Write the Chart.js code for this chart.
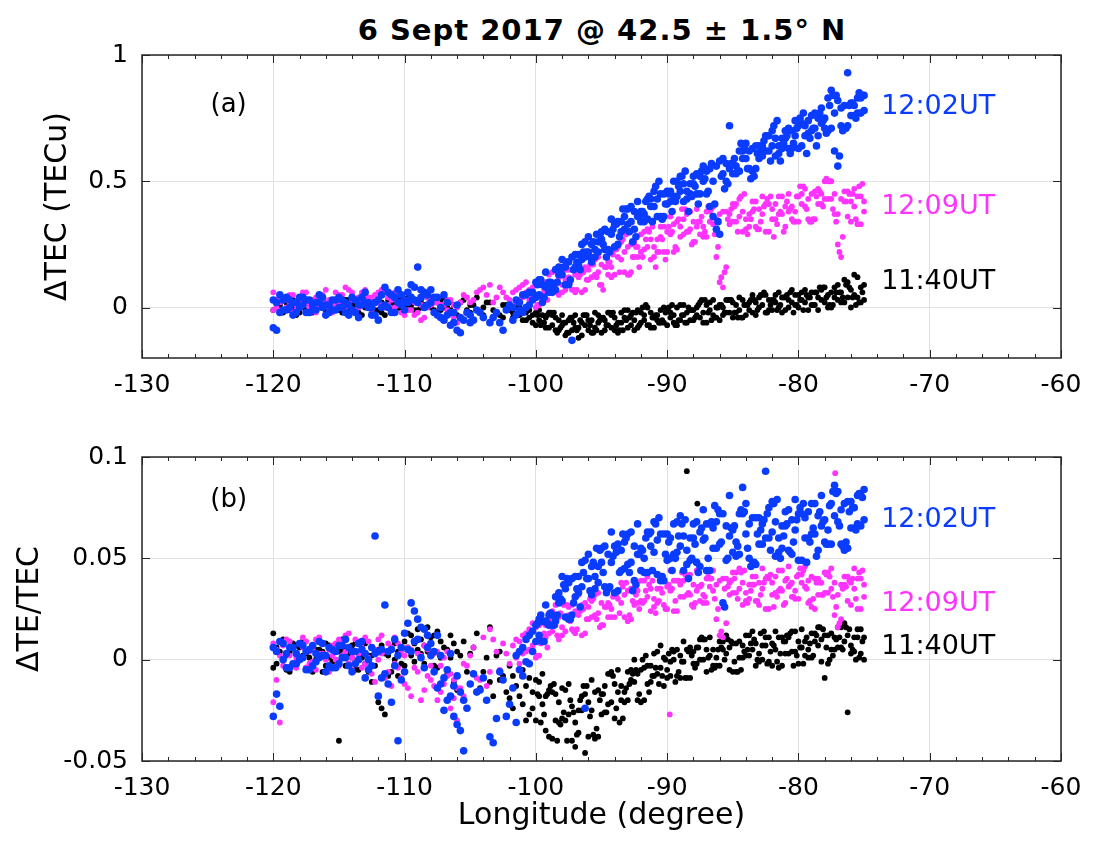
<!DOCTYPE html>
<html>
<head>
<meta charset="utf-8">
<title>6 Sept 2017 TEC</title>
<script src="https://cdn.jsdelivr.net/npm/chart.js@4.4.1/dist/chart.umd.min.js"></script>
<style>
  body { margin: 0; background: #fff; }
  #wrap { position: relative; width: 1100px; height: 844px; overflow: hidden; }
  #title {
    position: absolute; left: 302px; top: 11px; width: 600px; text-align: center;
    font: bold 29px "DejaVu Sans", sans-serif; letter-spacing: 1px; color: #000; line-height: 38px;
  }
  canvas { position: absolute; left: 0; }
  #tecChart { top: 0; }
  #relChart { top: 420px; }
</style>
</head>
<body>
<div id="wrap">
  <div id="title">6 Sept 2017 @ 42.5 ± 1.5° N</div>
  <canvas id="tecChart" width="1100" height="420"></canvas>
  <canvas id="relChart" width="1100" height="424"></canvas>
</div>
<script>
// axes
const X_TICKS = [-130, -120, -110, -100, -90, -80, -70, -60];
const TEC_TICKS = [0, 0.5, 1];
const REL_TICKS = [-0.05, 0, 0.05, 0.1];

// longitude sampling columns (degree)
const LON_A = [
  -120, -119.5, -119, -118.5, -118, -117.5, -117, -116.5, -116, -115.5,
  -115, -114.5, -114, -113.5, -113, -112.5, -112, -111.5, -111, -110.5,
  -110, -109.5, -109, -108.5, -108, -107.5, -107, -106.5, -106, -105.5,
  -105, -104.5, -104, -103.5, -103, -102.5, -102, -101.5, -101, -100.5,
  -100, -99.5, -99, -98.5, -98, -97.5, -97, -96.5, -96, -95.5,
  -95, -94.5, -94, -93.5, -93, -92.5, -92, -91.5, -91, -90.5,
  -90, -89.5, -89, -88.5, -88, -87.5, -87, -86.5, -86, -85.5,
  -85, -84.5, -84, -83.5, -83, -82.5, -82, -81.5, -81, -80.5,
  -80, -79.5, -79, -78.5, -78, -77.5, -77, -76.5, -76, -75.5,
  -75
];
const LON_B = [
  -119.75, -119.25, -118.75, -118.25, -117.75, -117.25, -116.75, -116.25, -115.75, -115.25,
  -114.75, -114.25, -113.75, -113.25, -112.75, -112.25, -111.75, -111.25, -110.75, -110.25,
  -109.75, -109.25, -108.75, -108.25, -107.75, -107.25, -106.75, -106.25, -105.75, -105.25,
  -104.75, -104.25, -103.75, -103.25, -102.75, -102.25, -101.75, -101.25, -100.75, -100.25,
  -99.75, -99.25, -98.75, -98.25, -97.75, -97.25, -96.75, -96.25, -95.75, -95.25,
  -94.75, -94.25, -93.75, -93.25, -92.75, -92.25, -91.75, -91.25, -90.75, -90.25,
  -89.75, -89.25, -88.75, -88.25, -87.75, -87.25, -86.75, -86.25, -85.75, -85.25,
  -84.75, -84.25, -83.75, -83.25, -82.75, -82.25, -81.75, -81.25, -80.75, -80.25,
  -79.75, -79.25, -78.75, -78.25, -77.75, -77.25, -76.75, -76.25, -75.75, -75.25
];
// extra columns over the dense eastern part
const LON_C = [
  -99.875, -99.375, -98.875, -98.375, -97.875, -97.375, -96.875, -96.375, -95.875, -95.375,
  -94.875, -94.375, -93.875, -93.375, -92.875, -92.375, -91.875, -91.375, -90.875, -90.375,
  -89.875, -89.375, -88.875, -88.375, -87.875, -87.375, -86.875, -86.375, -85.875, -85.375,
  -84.875, -84.375, -83.875, -83.375, -82.875, -82.375, -81.875, -81.375, -80.875, -80.375,
  -79.875, -79.375, -78.875, -78.375, -77.875, -77.375, -76.875, -76.375, -75.875, -75.375
];
const LON_D = [
  -99.625, -99.125, -98.625, -98.125, -97.625, -97.125, -96.625, -96.125, -95.625, -95.125,
  -94.625, -94.125, -93.625, -93.125, -92.625, -92.125, -91.625, -91.125, -90.625, -90.125,
  -89.625, -89.125, -88.625, -88.125, -87.625, -87.125, -86.625, -86.125, -85.625, -85.125,
  -84.625, -84.125, -83.625, -83.125, -82.625, -82.125, -81.625, -81.125, -80.625, -80.125,
  -79.625, -79.125, -78.625, -78.125, -77.625, -77.125, -76.625, -76.125, -75.625, -75.125
];

// (a) dTEC in TECu, 11:40UT (black)
const tecBlack1 = [
  0.03, 0.01, -0.01, 0.03, -0.02, 0.02, 0.00, 0.03, -0.01, 0.01,
  -0.01, 0.03, -0.01, 0.02, 0.00, -0.02, 0.03, 0.01, -0.01, 0.03,
  0.00, 0.04, 0.02, 0.05, 0.00, 0.02, 0.04, -0.01, 0.01, 0.03,
  -0.02, 0.04, 0.00, null, -0.02, 0.01, -0.01, -0.03, -0.01, -0.04,
  -0.02, -0.06, -0.08, -0.04, -0.07, -0.10, -0.03, -0.11, -0.05, -0.08,
  -0.04, -0.07, -0.09, -0.02, -0.08, -0.05, -0.02, -0.07, -0.04, -0.01,
  -0.07, -0.03, 0.01, -0.06, -0.01, -0.04, 0.01, -0.03, -0.05, 0.03,
  -0.04, 0.04, -0.03, 0.05, 0.00, -0.02, 0.03, 0.06, -0.01, 0.07,
  0.00, 0.07, 0.01, 0.04, 0.08, 0.00, 0.09, 0.02, 0.07, 0.12,
  0.03
];
const tecBlack2 = [
  -0.01, -0.02, 0.02, 0.00, 0.02, -0.01, -0.02, 0.01, -0.03, 0.03,
  0.02, 0.00, 0.01, -0.02, 0.03, 0.01, -0.01, -0.03, 0.02, 0.00,
  0.02, 0.01, -0.01, 0.01, 0.03, -0.02, 0.00, 0.02, -0.03, null,
  0.01, null, -0.03, 0.02, null, -0.04, null, 0.00, -0.05, -0.01,
  -0.07, -0.03, -0.02, -0.09, -0.03, -0.05, -0.08, -0.06, -0.09, -0.02,
  -0.10, -0.02, -0.04, -0.06, -0.01, -0.09, -0.06, 0.00, -0.08, -0.06,
  -0.01, -0.06, -0.05, -0.02, -0.05, 0.02, -0.06, 0.03, 0.01, -0.02,
  0.02, -0.01, 0.01, -0.02, 0.04, 0.05, -0.01, 0.00, 0.04, 0.02,
  0.05, 0.02, 0.06, -0.01, 0.02, 0.06, 0.03, 0.11, 0.00, 0.04,
  0.09
];
const tecBlack3 = [
  0.00, 0.03, -0.01, 0.02, 0.00, -0.02, 0.02, 0.00, -0.02, 0.03,
  0.01, -0.01, 0.02, -0.03, 0.01, -0.01, 0.02, 0.00, -0.02, 0.03,
  0.01, -0.01, 0.03, 0.01, -0.01, 0.03, 0.00, -0.02, null, -0.01,
  null, -0.02, 0.02, null, -0.03, null, -0.02, 0.00, -0.05, -0.03,
  -0.05, -0.08, -0.03, -0.09, -0.06, -0.04, -0.08, -0.03, -0.10, -0.06,
  -0.09, -0.03, -0.06, -0.04, -0.07, -0.01, -0.05, -0.08, -0.03, -0.06,
  -0.02, -0.07, -0.03, -0.05, 0.00, -0.02, 0.02, -0.04, 0.00, -0.02,
  0.01, 0.03, -0.01, 0.02, 0.05, -0.01, 0.02, 0.04, 0.00, 0.05,
  0.03, -0.01, 0.06, 0.03, 0.05, 0.08, 0.02, 0.10, 0.05, 0.08
];
const tecBlack4 = [
  0.02, -0.02, 0.01, -0.03, 0.03, 0.01, -0.01, 0.02, 0.01, -0.01,
  -0.02, 0.03, 0.00, 0.01, 0.03, 0.02, -0.02, 0.03, 0.01, -0.01,
  0.04, 0.02, 0.00, 0.04, 0.02, -0.01, 0.02, 0.01, 0.02, null,
  0.01, null, null, -0.01, null, 0.01, -0.04, -0.03, -0.02, -0.06,
  -0.01, -0.04, -0.07, -0.05, -0.11, -0.09, -0.12, -0.07, -0.05, -0.03,
  -0.05, -0.08, -0.10, -0.01, -0.03, -0.08, -0.03, -0.02, -0.05, 0.00,
  -0.04, 0.00, 0.01, -0.01, -0.03, -0.06, -0.01, 0.00, -0.03, 0.03,
  -0.02, -0.04, 0.02, -0.03, 0.01, 0.03, 0.05, -0.02, 0.03, 0.01,
  0.06, 0.04, 0.01, 0.07, 0.00, 0.04, 0.06, 0.04, 0.13, 0.02
];
const tecBlack5 = [
  -0.03, -0.06, -0.02, -0.10, -0.06, -0.04, -0.09, -0.03, -0.07, -0.09,
  -0.04, -0.02, -0.07, -0.09, -0.04, -0.02, 0.00, -0.07, -0.03, -0.05,
  0.00, -0.07, -0.03, 0.00, -0.04, 0.03, -0.02, -0.04, 0.01, 0.03,
  -0.02, -0.04, 0.01, 0.03, 0.05, -0.02, 0.03, 0.01, 0.05, -0.02,
  0.03, 0.05, 0.01, 0.08, 0.04, 0.01, 0.06, 0.09, 0.04, 0.02
];
const tecBlack6 = [
  -0.07, -0.03, -0.02, -0.08, -0.10, -0.06, -0.05, -0.03, -0.10, -0.05,
  -0.07, -0.02, -0.09, -0.05, -0.02, -0.07, 0.01, -0.04, -0.06, -0.02,
  0.01, -0.05, -0.06, -0.01, 0.01, 0.03, -0.05, 0.00, -0.02, 0.03,
  -0.04, 0.01, 0.03, -0.01, 0.06, 0.01, -0.01, 0.04, 0.06, 0.01,
  -0.01, 0.04, 0.06, 0.08, 0.01, 0.06, 0.04, 0.08, 0.01, 0.06
];

// (a) 12:02UT (blue)
const tecBlue1 = [
  -0.08, 0.05, -0.01, 0.02, 0.04, -0.02, 0.01, 0.05, -0.03, 0.03,
  0.00, -0.02, 0.04, 0.01, 0.06, -0.03, 0.03, 0.08, -0.02, 0.07,
  0.03, 0.09, 0.16, 0.06, 0.02, -0.03, 0.05, -0.02, 0.01, -0.05,
  -0.03, null, -0.04, null, -0.02, null, 0.01, -0.03, 0.05, 0.01,
  0.10, 0.09, 0.06, 0.15, 0.13, 0.09, 0.21, 0.19, 0.28, 0.20,
  0.27, 0.23, 0.33, 0.30, 0.39, 0.38, 0.34, 0.43, 0.40, 0.36,
  0.46, 0.44, 0.52, 0.43, 0.49, 0.45, 0.54, 0.50, 0.58, 0.57,
  0.53, 0.62, 0.59, 0.54, 0.64, 0.62, 0.70, 0.61, 0.67, 0.63,
  0.72, 0.68, 0.76, 0.75, 0.71, 0.86, 0.56, 0.71, 0.81, 0.77,
  0.84
];
const tecBlue2 = [
  0.03, -0.02, 0.04, -0.03, 0.00, 0.03, -0.01, 0.02, 0.01, -0.01,
  0.04, 0.02, -0.01, -0.04, 0.02, 0.00, -0.05, 0.01, 0.05, 0.02,
  -0.01, 0.04, 0.02, 0.00, 0.07, 0.04, -0.05, -0.07, -0.09, null,
  -0.06, -0.01, null, -0.06, null, -0.09, null, 0.03, -0.02, 0.06,
  0.04, 0.02, 0.10, 0.07, 0.19, 0.18, 0.16, 0.25, 0.22, 0.23,
  0.30, 0.30, 0.24, 0.34, 0.33, 0.31, 0.38, 0.35, 0.46, 0.45,
  0.41, 0.50, 0.46, 0.46, 0.52, 0.52, 0.45, 0.36, 0.29, 0.50,
  0.57, 0.54, 0.65, 0.63, 0.59, 0.68, 0.64, 0.64, 0.70, 0.70,
  0.63, 0.72, 0.70, 0.68, 0.75, 0.71, 0.82, 0.80, 0.76, 0.83,
  0.78
];
const tecBlue3 = [
  0.02, -0.01, 0.03, -0.02, 0.01, 0.03, -0.01, 0.04, 0.01, -0.01,
  0.03, 0.01, -0.02, 0.04, 0.00, 0.02, 0.05, 0.00, 0.04, 0.01,
  0.06, 0.03, 0.07, 0.01, 0.04, 0.00, -0.03, -0.06, -0.04, -0.02,
  null, -0.02, null, -0.04, null, -0.01, 0.00, 0.02, 0.00, 0.06,
  0.05, 0.14, 0.06, 0.13, 0.09, 0.20, 0.17, 0.26, 0.25, 0.22,
  0.31, 0.29, 0.25, 0.36, 0.34, 0.42, 0.34, 0.40, 0.36, 0.45,
  0.42, 0.50, 0.49, 0.45, 0.53, 0.50, 0.40, 0.56, 0.53, 0.72,
  0.53, 0.59, 0.55, 0.64, 0.60, 0.68, 0.67, 0.63, 0.71, 0.68,
  0.64, 0.74, 0.71, 0.79, 0.70, 0.77, 0.72, 0.93, 0.76, 0.83
];
const tecBlue4 = [
  -0.09, 0.03, 0.00, 0.02, 0.04, -0.02, 0.02, 0.00, -0.02, 0.03,
  0.00, -0.03, 0.03, 0.01, 0.02, -0.03, 0.00, 0.06, -0.02, 0.05,
  0.02, 0.08, 0.04, 0.05, -0.02, -0.04, 0.02, -0.02, -0.10, null,
  -0.05, null, null, null, -0.06, null, -0.05, -0.01, 0.05, 0.03,
  0.11, 0.08, 0.09, 0.16, 0.16, -0.13, 0.21, 0.20, 0.18, 0.26,
  0.23, 0.35, 0.34, 0.31, 0.40, 0.36, 0.37, 0.43, 0.43, 0.36,
  0.46, 0.44, 0.42, 0.49, 0.45, 0.56, 0.55, 0.31, 0.59, 0.55,
  0.56, 0.62, 0.62, 0.55, 0.64, 0.62, 0.60, 0.67, 0.63, 0.74,
  0.73, 0.69, 0.77, 0.73, 0.83, 0.62, 0.79, 0.72, 0.80, 0.77
];
const tecBlue5 = [
  0.09, 0.04, 0.10, 0.10, 0.16, 0.11, 0.18, 0.22, 0.20, 0.29,
  0.25, 0.22, 0.33, 0.39, 0.30, 0.28, 0.38, 0.44, 0.48, 0.35,
  0.45, 0.42, 0.52, 0.38, 0.48, 0.54, 0.46, 0.41, 0.52, 0.49,
  0.59, 0.65, 0.55, 0.52, 0.62, 0.68, 0.72, 0.58, 0.68, 0.65,
  0.75, 0.61, 0.71, 0.77, 0.69, 0.84, 0.60, 0.71, 0.81, 0.85
];
const tecBlue6 = [
  0.11, 0.08, 0.07, 0.14, 0.18, 0.15, 0.15, 0.22, 0.26, 0.29,
  0.20, 0.31, 0.28, 0.39, 0.26, 0.36, 0.42, 0.34, 0.50, 0.41,
  0.38, 0.48, 0.54, 0.44, 0.41, 0.51, 0.57, 0.34, 0.47, 0.57,
  0.54, 0.64, 0.51, 0.61, 0.66, 0.58, 0.74, 0.65, 0.61, 0.71,
  0.77, 0.67, 0.64, 0.74, 0.80, 0.84, 0.70, 0.80, 0.75, 0.84
];

// (a) 12:09UT (magenta)
const tecPink1 = [
  0.06, 0.02, 0.00, 0.05, 0.01, 0.06, -0.01, 0.04, 0.07, 0.01,
  0.05, 0.08, 0.03, 0.00, 0.07, 0.04, 0.02, 0.06, -0.02, 0.05,
  0.02, -0.01, 0.03, 0.00, 0.04, -0.03, 0.01, -0.02, 0.00, 0.05,
  0.02, 0.06, null, 0.09, 0.04, null, 0.03, 0.07, 0.09, 0.03,
  0.00, 0.10, 0.07, 0.15, 0.06, 0.12, 0.06, 0.15, 0.11, 0.19,
  0.17, 0.13, 0.23, 0.19, 0.13, 0.26, 0.22, 0.31, 0.20, 0.28,
  0.22, 0.33, 0.28, 0.37, 0.34, 0.29, 0.38, 0.33, 0.10, 0.38,
  0.34, 0.43, 0.31, 0.38, 0.31, 0.41, 0.35, 0.44, 0.40, 0.35,
  0.44, 0.40, 0.34, 0.47, 0.43, 0.50, 0.37, 0.42, 0.34, 0.44,
  0.38
];
const tecPink2 = [
  -0.01, 0.05, 0.03, -0.02, 0.04, 0.02, 0.03, 0.00, 0.02, -0.02,
  0.02, 0.00, 0.06, 0.04, 0.02, -0.01, 0.06, 0.00, 0.03, 0.01,
  -0.03, 0.04, -0.02, -0.04, 0.01, 0.02, -0.05, 0.03, -0.06, null,
  null, null, 0.08, null, null, 0.06, null, 0.02, 0.04, 0.07,
  0.09, 0.05, 0.13, 0.09, 0.09, 0.15, 0.13, 0.06, 0.15, 0.13,
  0.09, 0.18, 0.13, 0.26, 0.24, 0.20, 0.29, 0.24, 0.24, 0.32,
  0.30, 0.22, 0.32, 0.30, 0.26, 0.34, 0.28, 0.40, 0.37, 0.16,
  0.41, 0.36, 0.35, 0.42, 0.39, 0.30, 0.39, 0.37, 0.32, 0.40,
  0.34, 0.47, 0.45, 0.41, 0.50, 0.43, 0.25, 0.46, 0.42, 0.33,
  0.42
];
const tecPink3 = [
  0.03, -0.01, 0.05, 0.01, 0.03, 0.00, 0.04, 0.02, -0.01, 0.06,
  0.02, 0.07, 0.03, 0.06, 0.00, 0.05, 0.01, 0.04, 0.06, 0.02,
  0.03, -0.03, 0.01, 0.04, -0.02, 0.01, 0.03, -0.04, 0.02, null,
  0.03, null, 0.05, null, 0.08, 0.04, null, 0.03, 0.06, 0.04,
  0.10, 0.06, 0.14, 0.12, 0.07, 0.15, 0.12, 0.07, 0.17, 0.14,
  0.23, 0.12, 0.20, 0.14, 0.25, 0.20, 0.30, 0.27, 0.22, 0.32,
  0.29, 0.23, 0.35, 0.31, 0.39, 0.28, 0.34, 0.20, 0.38, 0.33,
  0.41, 0.38, 0.32, 0.42, 0.37, 0.30, 0.41, 0.37, 0.45, 0.34,
  0.41, 0.35, 0.46, 0.41, 0.50, 0.45, 0.20, 0.46, 0.40, 0.33
];
const tecPink4 = [
  0.00, 0.04, 0.02, -0.01, 0.06, 0.02, -0.02, 0.05, 0.03, 0.01,
  0.05, 0.01, -0.01, 0.02, 0.04, 0.02, 0.07, 0.01, 0.00, -0.02,
  -0.01, 0.02, -0.05, 0.00, 0.02, -0.04, -0.01, 0.01, null, 0.04,
  null, 0.07, null, 0.02, null, null, 0.06, 0.08, 0.10, 0.08,
  0.01, 0.10, 0.08, 0.05, 0.11, 0.07, 0.18, 0.16, 0.12, 0.20,
  0.16, 0.16, 0.24, 0.22, 0.14, 0.24, 0.23, 0.19, 0.27, 0.22,
  0.36, 0.34, 0.29, 0.38, 0.32, 0.32, 0.38, 0.35, 0.08, 0.37,
  0.34, 0.30, 0.37, 0.32, 0.44, 0.41, 0.35, 0.44, 0.38, 0.38,
  0.45, 0.43, 0.35, 0.45, 0.43, 0.37, 0.43, 0.36, 0.47, 0.44
];
const tecPink5 = [
  0.01, 0.07, 0.10, 0.06, 0.15, 0.10, 0.07, 0.14, 0.17, 0.12,
  0.07, 0.18, 0.23, 0.27, 0.13, 0.24, 0.20, 0.30, 0.16, 0.27,
  0.32, 0.24, 0.39, 0.30, 0.26, 0.36, 0.40, 0.29, 0.12, 0.35,
  0.40, 0.44, 0.29, 0.39, 0.34, 0.43, 0.28, 0.38, 0.42, 0.34,
  0.48, 0.39, 0.35, 0.46, 0.51, 0.39, 0.22, 0.42, 0.45, 0.48
];
const tecPink6 = [
  0.04, 0.03, 0.09, 0.13, 0.15, 0.07, 0.13, 0.11, 0.17, 0.09,
  0.16, 0.21, 0.14, 0.29, 0.20, 0.16, 0.27, 0.32, 0.22, 0.19,
  0.30, 0.35, 0.39, 0.25, 0.34, 0.30, 0.39, 0.24, 0.14, 0.39,
  0.30, 0.45, 0.35, 0.31, 0.40, 0.44, 0.33, 0.30, 0.39, 0.44,
  0.48, 0.34, 0.44, 0.40, 0.50, 0.34, 0.28, 0.45, 0.35, 0.49
];

// (b) dTEC/TEC, 11:40UT (black)
const relBlack1 = [
  0.013, 0.004, -0.005, 0.008, 0.001, -0.004, 0.007, 0.002, -0.003, 0.005,
  -0.040, 0.006, 0.001, -0.005, 0.008, 0.002, -0.021, 0.003, -0.006, 0.004,
  0.009, 0.002, 0.015, 0.007, 0.011, -0.004, 0.006, 0.012, -0.015, 0.009,
  null, 0.013, null, 0.016, null, -0.008, -0.019, null, -0.005, -0.027,
  -0.010, -0.022, -0.038, -0.017, -0.029, -0.012, -0.043, -0.025, -0.038, -0.016,
  -0.027, -0.007, -0.012, -0.020, -0.006, -0.011, -0.021, -0.003, -0.008, 0.007,
  -0.009, 0.000, -0.009, 0.005, -0.002, 0.010, 0.005, -0.003, 0.009, 0.003,
  -0.006, 0.009, 0.002, 0.014, -0.001, 0.007, -0.003, 0.011, 0.003, 0.014,
  0.009, 0.002, 0.013, 0.007, -0.009, 0.013, 0.006, 0.018, 0.003, 0.011,
  0.000
];
const relBlack2 = [
  -0.004, 0.009, 0.002, -0.002, 0.006, 0.003, -0.006, 0.005, 0.008, -0.001,
  0.004, -0.003, 0.007, 0.003, -0.002, -0.011, 0.005, -0.027, 0.006, -0.008,
  -0.003, 0.012, 0.005, -0.002, 0.003, 0.014, -0.009, 0.001, 0.004, -0.020,
  0.003, null, -0.006, -0.011, 0.002, null, -0.003, -0.013, -0.022, -0.009,
  -0.030, -0.007, -0.015, -0.030, -0.014, -0.027, -0.031, -0.018, -0.021, -0.039,
  -0.017, -0.022, -0.029, -0.013, -0.020, 0.000, -0.005, -0.012, 0.003, -0.004,
  -0.005, 0.004, 0.002, -0.009, 0.004, 0.000, -0.006, 0.005, -0.003, 0.012,
  0.008, 0.001, 0.012, 0.005, 0.003, 0.011, 0.008, -0.004, 0.009, 0.004,
  -0.002, 0.009, 0.001, 0.016, 0.012, 0.005, 0.016, 0.009, 0.007, 0.015,
  0.011
];
const relBlack3 = [
  0.006, 0.000, 0.004, -0.003, 0.009, 0.001, 0.005, -0.006, 0.007, 0.000,
  0.005, -0.002, 0.008, 0.001, -0.006, 0.004, -0.024, 0.002, 0.008, -0.002,
  0.006, -0.001, 0.010, 0.004, 0.012, 0.001, -0.007, 0.008, null, -0.006,
  0.006, null, 0.001, null, -0.010, null, -0.008, -0.018, -0.013, -0.024,
  -0.018, -0.035, -0.016, -0.031, -0.015, -0.023, -0.036, -0.017, -0.025, -0.038,
  -0.013, -0.021, -0.005, -0.021, -0.010, -0.020, -0.004, -0.011, 0.004, 0.001,
  -0.008, 0.005, -0.001, -0.009, 0.006, 0.000, 0.011, -0.003, 0.005, -0.005,
  0.008, 0.001, 0.012, 0.008, 0.000, 0.011, 0.005, -0.003, 0.011, 0.004,
  0.015, 0.001, 0.009, -0.001, 0.012, 0.005, 0.016, 0.012, 0.004, 0.015
];
const relBlack4 = [
  -0.002, 0.010, -0.006, 0.007, 0.002, -0.005, 0.000, 0.004, 0.001, -0.004,
  0.010, 0.003, -0.005, 0.006, 0.002, -0.003, 0.007, -0.008, 0.000, 0.006,
  0.013, 0.008, 0.003, 0.016, -0.003, 0.009, 0.005, -0.011, 0.002, null,
  null, -0.014, null, -0.018, 0.004, -0.016, -0.024, null, -0.030, -0.016,
  -0.011, -0.018, -0.039, -0.021, -0.030, -0.040, -0.025, -0.046, -0.010, -0.015,
  -0.026, -0.006, -0.016, -0.016, -0.005, -0.007, -0.020, -0.003, -0.007, -0.013,
  -0.001, -0.008, 0.009, 0.006, -0.002, 0.010, 0.002, 0.001, 0.009, 0.006,
  -0.006, 0.007, 0.002, -0.003, 0.007, -0.001, 0.014, 0.011, 0.003, 0.014,
  0.006, 0.005, 0.013, 0.010, -0.002, 0.011, 0.006, -0.026, 0.011, 0.003
];
const relBlack5 = [
  -0.017, -0.027, -0.013, -0.040, -0.026, -0.020, -0.037, -0.013, -0.028, -0.034,
  -0.017, -0.007, -0.024, -0.029, -0.012, -0.005, 0.000, -0.016, -0.004, -0.008,
  0.003, -0.011, -0.001, 0.004, -0.004, 0.011, 0.001, -0.004, 0.006, 0.010,
  -0.001, -0.005, 0.005, 0.010, 0.013, -0.002, 0.007, 0.003, 0.012, -0.003,
  0.006, 0.011, 0.002, 0.016, 0.006, 0.002, 0.011, 0.016, 0.005, 0.001
];
const relBlack6 = [
  -0.031, -0.017, -0.012, -0.032, -0.040, -0.026, -0.020, -0.013, -0.037, -0.020,
  -0.026, -0.008, -0.031, -0.014, -0.007, -0.017, 0.002, -0.008, -0.012, 0.000,
  0.005, -0.006, -0.009, 0.002, 0.006, 0.010, -0.005, 0.005, 0.000, 0.009,
  -0.006, 0.004, 0.008, 0.000, 0.014, 0.004, -0.001, 0.009, 0.013, 0.002,
  -0.002, 0.008, 0.012, 0.015, 0.000, 0.010, 0.005, 0.015, 0.000, 0.009
];
const relBlackOddLon = [-88.5, -87.7];
const relBlackOddVal = [0.093, 0.077];

// (b) 12:02UT (blue)
const relBlue1 = [
  -0.028, 0.009, -0.004, 0.006, 0.000, 0.004, -0.003, 0.009, 0.002, -0.004,
  0.007, 0.001, -0.006, 0.008, 0.003, -0.003, 0.004, 0.027, -0.021, 0.002,
  0.013, 0.028, 0.010, -0.004, 0.008, 0.012, -0.009, 0.003, -0.032, -0.045,
  null, -0.016, null, -0.038, null, -0.010, null, -0.031, -0.008, 0.012,
  0.017, 0.019, 0.017, 0.031, 0.029, 0.020, 0.041, 0.036, 0.052, 0.035,
  0.048, 0.035, 0.056, 0.044, 0.062, 0.056, 0.044, 0.063, 0.053, 0.039,
  0.062, 0.052, 0.071, 0.047, 0.060, 0.046, 0.067, 0.055, 0.072, 0.066,
  0.053, 0.072, 0.062, 0.047, 0.070, 0.060, 0.078, 0.053, 0.066, 0.052,
  0.072, 0.060, 0.077, 0.071, 0.058, 0.077, 0.068, 0.054, 0.078, 0.067,
  0.084
];
const relBlue2 = [
  0.006, -0.023, 0.003, -0.002, 0.008, -0.005, 0.007, 0.001, -0.006, 0.005,
  -0.002, 0.010, 0.004, 0.000, -0.009, 0.006, -0.018, -0.007, 0.005, -0.040,
  -0.006, 0.004, 0.020, 0.015, 0.002, -0.014, -0.025, -0.018, -0.008, -0.020,
  -0.012, null, -0.009, null, -0.029, null, -0.022, 0.002, 0.006, -0.002,
  0.009, 0.009, 0.022, 0.019, 0.041, 0.038, 0.031, 0.048, 0.040, 0.041,
  0.055, 0.052, 0.033, 0.054, 0.047, 0.039, 0.055, 0.043, 0.068, 0.062,
  0.049, 0.067, 0.056, 0.054, 0.067, 0.063, 0.044, 0.065, 0.057, 0.049,
  0.064, 0.052, 0.077, 0.070, 0.057, 0.093, 0.063, 0.060, 0.073, 0.069,
  0.049, 0.070, 0.062, 0.054, 0.069, 0.057, 0.083, 0.077, 0.065, 0.081,
  0.069
];
const relBlue3 = [
  -0.017, 0.000, 0.006, -0.002, 0.007, -0.005, 0.003, 0.008, -0.003, 0.004,
  0.001, 0.006, -0.002, 0.005, 0.000, 0.061, -0.009, 0.004, 0.010, -0.010,
  0.018, 0.009, 0.016, 0.006, -0.006, -0.012, -0.020, -0.028, -0.035, null,
  -0.007, null, -0.020, null, -0.006, null, -0.014, 0.004, -0.001, 0.014,
  0.012, 0.027, 0.017, 0.028, 0.021, 0.040, 0.033, 0.049, 0.046, 0.038,
  0.056, 0.048, 0.034, 0.058, 0.048, 0.067, 0.043, 0.056, 0.042, 0.062,
  0.050, 0.068, 0.061, 0.049, 0.068, 0.059, 0.044, 0.068, 0.028, 0.081,
  0.051, 0.085, 0.050, 0.070, 0.057, 0.075, 0.068, 0.055, 0.074, 0.064,
  0.049, 0.073, 0.062, 0.081, 0.057, 0.071, 0.057, 0.078, 0.065, 0.081
];
const relBlue4 = [
  0.004, 0.008, -0.004, 0.003, 0.001, 0.005, -0.001, 0.002, 0.006, -0.004,
  0.007, -0.003, 0.004, 0.009, -0.005, 0.003, 0.005, -0.012, -0.003, 0.006,
  0.005, 0.024, 0.001, 0.012, 0.004, 0.002, -0.005, -0.013, -0.016, -0.024,
  null, -0.015, null, -0.041, null, -0.028, null, -0.005, 0.010, 0.004,
  0.020, 0.019, 0.022, 0.033, 0.035, 0.022, 0.041, -0.024, 0.032, 0.046,
  0.036, 0.063, 0.057, 0.045, 0.063, 0.052, 0.050, 0.063, 0.059, 0.039,
  0.060, 0.053, 0.044, 0.060, 0.048, 0.074, 0.067, 0.055, 0.072, 0.061,
  0.058, 0.072, 0.067, 0.047, 0.067, 0.060, 0.051, 0.066, 0.054, 0.079,
  0.072, 0.060, 0.077, 0.066, 0.064, 0.086, 0.074, 0.055, 0.075, 0.066
];
const relBlue5 = [
  0.018, 0.009, 0.023, 0.022, 0.037, 0.020, 0.035, 0.043, 0.034, 0.055,
  0.043, 0.036, 0.053, 0.062, 0.043, 0.037, 0.054, 0.062, 0.067, 0.041,
  0.058, 0.050, 0.067, 0.040, 0.057, 0.065, 0.050, 0.076, 0.058, 0.050,
  0.066, 0.074, 0.055, 0.048, 0.064, 0.072, 0.077, 0.050, 0.067, 0.058,
  0.075, 0.048, 0.065, 0.073, 0.057, 0.083, 0.066, 0.058, 0.075, 0.082
];
const relBlue6 = [
  0.022, 0.018, 0.017, 0.030, 0.040, 0.028, 0.026, 0.040, 0.048, 0.054,
  0.033, 0.051, 0.043, 0.060, 0.034, 0.052, 0.060, 0.044, 0.070, 0.052,
  0.044, 0.061, 0.069, 0.050, 0.043, 0.060, 0.068, 0.074, 0.026, 0.065,
  0.056, 0.073, 0.046, 0.062, 0.069, 0.054, 0.079, 0.061, 0.053, 0.069,
  0.077, 0.058, 0.051, 0.068, 0.076, 0.082, 0.056, 0.073, 0.064, 0.080
];

// (b) 12:09UT (magenta)
const relPink1 = [
  -0.021, 0.002, 0.010, -0.002, 0.008, -0.004, 0.005, 0.011, 0.000, 0.007,
  -0.003, 0.012, 0.001, 0.009, -0.002, 0.006, 0.010, -0.009, 0.006, -0.004,
  -0.012, 0.005, -0.006, 0.007, -0.003, 0.004, -0.012, -0.024, -0.030, -0.002,
  null, -0.009, null, 0.015, null, 0.008, null, 0.010, 0.003, 0.015,
  0.001, 0.018, 0.013, 0.027, 0.012, 0.022, 0.013, 0.027, 0.020, 0.032,
  0.028, 0.021, 0.033, 0.028, 0.019, 0.035, 0.029, 0.041, 0.026, 0.035,
  0.025, 0.039, 0.031, 0.042, 0.037, 0.029, 0.040, 0.034, 0.012, 0.040,
  0.033, 0.045, 0.029, 0.037, 0.027, 0.040, 0.032, 0.044, 0.039, 0.031,
  0.042, 0.036, 0.026, 0.040, 0.033, 0.045, 0.016, 0.037, 0.027, 0.040,
  0.031
];
const relPink2 = [
  0.008, -0.031, -0.004, 0.006, 0.001, 0.009, -0.001, 0.003, -0.006, 0.002,
  0.010, 0.004, -0.005, 0.003, 0.011, -0.007, 0.000, 0.004, -0.013, 0.008,
  0.002, -0.018, 0.003, -0.015, -0.010, -0.020, 0.001, -0.007, -0.014, -0.018,
  0.002, null, 0.011, -0.006, 0.004, null, -0.002, 0.001, 0.012, 0.005,
  0.016, 0.010, 0.023, 0.017, 0.016, 0.026, 0.024, 0.012, 0.026, 0.022,
  0.017, 0.028, 0.021, 0.038, 0.034, 0.027, 0.039, 0.031, 0.030, 0.039,
  0.036, 0.024, 0.037, 0.032, 0.026, 0.036, 0.028, 0.044, 0.039, 0.018,
  0.043, 0.035, 0.033, 0.041, 0.038, 0.025, 0.038, 0.034, 0.028, 0.038,
  0.030, 0.046, 0.041, 0.032, 0.043, 0.035, 0.032, 0.041, 0.038, 0.025,
  0.037
];
const relPink3 = [
  0.005, -0.003, 0.009, 0.001, 0.006, -0.002, 0.010, 0.003, -0.006, 0.008,
  0.002, 0.013, 0.004, -0.004, 0.009, -0.011, 0.003, -0.006, 0.011, -0.009,
  0.006, -0.004, 0.002, -0.008, 0.003, -0.016, -0.008, -0.019, -0.014, null,
  0.006, null, -0.013, null, -0.005, null, 0.007, -0.002, 0.004, 0.018,
  0.017, 0.011, 0.024, 0.021, 0.014, 0.027, 0.022, 0.013, 0.029, 0.023,
  0.036, 0.021, 0.030, 0.021, 0.035, 0.028, 0.039, 0.035, 0.028, 0.039,
  0.034, 0.024, 0.039, 0.032, 0.044, 0.028, 0.036, 0.020, 0.040, 0.032,
  0.043, 0.038, 0.030, 0.041, 0.035, 0.025, 0.041, 0.034, 0.046, 0.030,
  0.038, 0.028, 0.040, 0.032, 0.043, 0.038, 0.020, 0.041, 0.035, 0.025
];
const relPink4 = [
  -0.010, 0.007, 0.002, -0.004, 0.011, 0.004, -0.005, 0.008, 0.005, 0.000,
  0.009, -0.002, 0.010, 0.006, 0.001, 0.005, 0.012, 0.008, -0.002, 0.004,
  -0.014, 0.009, -0.020, 0.005, -0.013, -0.003, 0.004, -0.010, null, -0.003,
  null, -0.010, null, 0.010, null, 0.003, null, 0.009, 0.013, 0.007,
  0.002, 0.017, 0.014, 0.010, 0.021, 0.015, 0.032, 0.028, 0.021, 0.033,
  0.026, 0.025, 0.034, 0.032, 0.020, 0.034, 0.029, 0.024, 0.035, 0.027,
  0.044, 0.039, 0.031, 0.042, 0.034, 0.032, 0.040, 0.037, 0.011, 0.038,
  0.033, 0.027, 0.037, 0.029, 0.045, 0.040, 0.033, 0.044, 0.036, 0.034,
  0.042, 0.039, 0.025, 0.038, 0.033, 0.022, 0.037, 0.029, 0.045, 0.040
];
const relPink5 = [
  0.002, 0.013, 0.019, 0.012, 0.027, 0.019, 0.015, 0.025, 0.030, 0.020,
  0.017, 0.027, 0.032, 0.036, 0.022, 0.032, 0.028, 0.037, 0.023, 0.033,
  0.037, 0.029, 0.043, 0.033, 0.028, 0.037, 0.041, 0.030, 0.014, 0.036,
  0.040, 0.043, 0.028, 0.037, 0.032, 0.041, 0.026, 0.035, 0.040, 0.031,
  0.045, 0.035, 0.030, 0.038, 0.042, 0.031, 0.018, 0.036, 0.040, 0.043
];
const relPink6 = [
  0.008, 0.006, 0.017, 0.023, 0.027, 0.014, 0.024, 0.020, 0.030, 0.016,
  0.026, 0.031, 0.023, 0.038, 0.029, 0.025, 0.034, 0.039, 0.029, 0.025,
  0.035, 0.039, 0.042, 0.027, 0.036, 0.031, 0.040, 0.025, 0.035, 0.039,
  0.030, 0.044, 0.034, 0.029, 0.038, 0.042, 0.031, 0.027, 0.037, 0.041,
  0.044, 0.029, 0.038, 0.032, 0.041, 0.026, 0.035, 0.039, 0.030, 0.044
];
const relPinkOddLon = [-77.2, -89.8];
const relPinkOddVal = [0.092, -0.027];

const BLUE = '#0a3cff';
const PINK = '#ff33ff';
const BLACK = '#000000';
const FONT = '"DejaVu Sans", "Noto Sans", sans-serif';

// pair every value array with its longitude column, skip gaps
function collect(lonSets, valSets) {
  const pts = [];
  valSets.forEach(function(vals, k) {
    const lons = lonSets[k];
    vals.forEach(function(v, i) {
      if (v !== null && lons[i] !== undefined) pts.push({ x: lons[i], y: v });
    });
  });
  return pts;
}
const COLS = [LON_A, LON_A, LON_B, LON_B, LON_C, LON_D];

// box, inward ticks and in-plot labels
const framePlugin = {
  id: 'frame',
  afterDraw(chart, args, opts) {
    const { ctx, chartArea: a, scales } = chart;
    ctx.save();
    ctx.strokeStyle = '#262626';
    ctx.lineWidth = 1;
    ctx.beginPath();
    for (let v = -130; v <= -60; v += 2) {
      const px = Math.round(scales.x.getPixelForValue(v)) + 0.5;
      const len = (v % 10 === 0) ? 8 : 4;
      ctx.moveTo(px, a.bottom); ctx.lineTo(px, a.bottom - len);
      ctx.moveTo(px, a.top); ctx.lineTo(px, a.top + len);
    }
    opts.yTicks.forEach(function(v) {
      const py = Math.round(scales.y.getPixelForValue(v)) + 0.5;
      ctx.moveTo(a.left, py); ctx.lineTo(a.left + 8, py);
      ctx.moveTo(a.right, py); ctx.lineTo(a.right - 8, py);
    });
    ctx.stroke();
    ctx.lineWidth = 1.5;
    ctx.strokeRect(a.left, a.top, a.right - a.left, a.bottom - a.top);

    ctx.textBaseline = 'middle';
    opts.labels.forEach(function(l) {
      ctx.font = l.size + 'px ' + FONT;
      ctx.fillStyle = l.color;
      ctx.textAlign = l.align;
      ctx.fillText(l.text, scales.x.getPixelForValue(l.x), scales.y.getPixelForValue(l.y));
    });
    ctx.restore();
  }
};

function makePanel(canvasId, cfg) {
  const ctx = document.getElementById(canvasId).getContext('2d');
  return new Chart(ctx, {
    type: 'scatter',
    data: {
      datasets: [
        { label: '12:02UT', data: cfg.blue, backgroundColor: BLUE, pointRadius: 3.8 },
        { label: '12:09UT', data: cfg.pink, backgroundColor: PINK, pointRadius: 2.9 },
        { label: '11:40UT', data: cfg.black, backgroundColor: BLACK, pointRadius: 2.9 }
      ]
    },
    options: {
      responsive: false,
      animation: false,
      devicePixelRatio: 1,
      events: [],
      layout: { padding: { top: cfg.padTop, right: 39, bottom: 0, left: 0 } },
      elements: { point: { borderWidth: 0, hoverRadius: 0 } },
      plugins: {
        legend: { display: false },
        tooltip: { enabled: false },
        frame: { yTicks: cfg.yTicks, labels: cfg.labels }
      },
      scales: {
        x: {
          type: 'linear',
          min: -130, max: -60,
          afterBuildTicks: function(s) { s.ticks = X_TICKS.map(function(v) { return { value: v }; }); },
          afterFit: function(s) { s.height = cfg.xHeight; },
          grid: { color: '#e0e0e0', lineWidth: 1, drawTicks: false },
          border: { display: false },
          ticks: {
            padding: 12, color: '#000', autoSkip: false, maxRotation: 0,
            font: { family: FONT, size: 25 },
            callback: function(v) { return String(v); }
          },
          title: cfg.xTitle
        },
        y: {
          type: 'linear',
          min: cfg.yMin, max: cfg.yMax,
          afterBuildTicks: function(s) { s.ticks = cfg.yTicks.map(function(v) { return { value: v }; }); },
          afterFit: function(s) { s.width = 142; },
          grid: { color: '#e0e0e0', lineWidth: 1, drawTicks: false },
          border: { display: false },
          ticks: {
            padding: 14, color: '#000', autoSkip: false,
            font: { family: FONT, size: 25 },
            callback: function(v) { return String(v); }
          },
          title: {
            display: true, text: cfg.yLabel, color: '#000',
            font: { family: FONT, size: 30 },
            padding: { top: cfg.yTitlePad, bottom: 0 }
          }
        }
      }
    },
    plugins: [framePlugin]
  });
}

makePanel('tecChart', {
  blue: collect(COLS, [tecBlue1, tecBlue2, tecBlue3, tecBlue4, tecBlue5, tecBlue6]),
  pink: collect(COLS, [tecPink1, tecPink2, tecPink3, tecPink4, tecPink5, tecPink6]),
  black: collect(COLS, [tecBlack1, tecBlack2, tecBlack3, tecBlack4, tecBlack5, tecBlack6]),
  padTop: 55, xHeight: 62,
  yMin: -0.2, yMax: 1, yTicks: TEC_TICKS,
  yLabel: 'ΔTEC (TECu)', yTitlePad: 40,
  xTitle: { display: false },
  labels: [
    { text: '(a)', x: -123.4, y: 0.8, color: BLACK, size: 26, align: 'center' },
    { text: '12:02UT', x: -73.7, y: 0.795, color: BLUE, size: 27, align: 'left' },
    { text: '12:09UT', x: -73.7, y: 0.4, color: PINK, size: 27, align: 'left' },
    { text: '11:40UT', x: -73.7, y: 0.1, color: BLACK, size: 27, align: 'left' }
  ]
});

makePanel('relChart', {
  blue: collect(COLS, [relBlue1, relBlue2, relBlue3, relBlue4, relBlue5, relBlue6]),
  pink: collect(COLS.concat([relPinkOddLon]), [relPink1, relPink2, relPink3, relPink4, relPink5, relPink6, relPinkOddVal]),
  black: collect(COLS.concat([relBlackOddLon]), [relBlack1, relBlack2, relBlack3, relBlack4, relBlack5, relBlack6, relBlackOddVal]),
  padTop: 37, xHeight: 83,
  yMin: -0.05, yMax: 0.1, yTicks: REL_TICKS,
  yLabel: 'ΔTE/TEC', yTitlePad: 12,
  xTitle: {
    display: true, text: 'Longitude (degree)', color: '#000',
    font: { family: FONT, size: 30 },
    padding: { top: 0, bottom: 10 }
  },
  labels: [
    { text: '(b)', x: -123.4, y: 0.0785, color: BLACK, size: 26, align: 'center' },
    { text: '12:02UT', x: -73.7, y: 0.069, color: BLUE, size: 27, align: 'left' },
    { text: '12:09UT', x: -73.7, y: 0.0276, color: PINK, size: 27, align: 'left' },
    { text: '11:40UT', x: -73.7, y: 0.0064, color: BLACK, size: 27, align: 'left' }
  ]
});
</script>
</body>
</html>
